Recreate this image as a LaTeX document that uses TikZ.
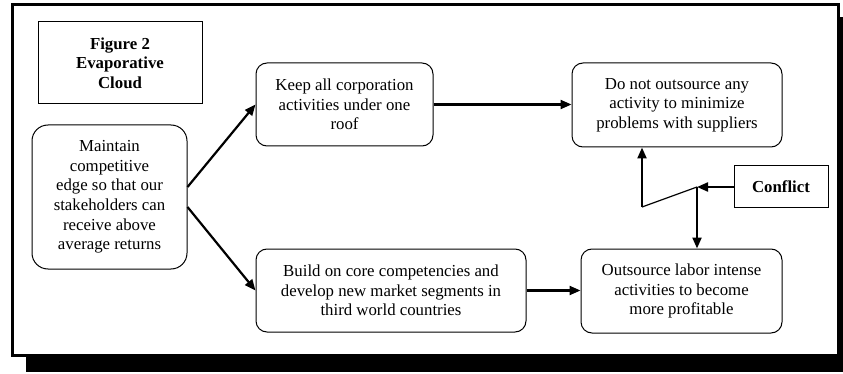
\documentclass[tikz,border=0pt]{standalone}
\usepackage{fontspec}
\setmainfont{Liberation Serif}
\usetikzlibrary{arrows.meta}
\begin{document}
\begin{tikzpicture}[x=1pt,y=-1pt,
  every node/.style={font=\fontsize{16.8}{19.6}\selectfont, align=center, inner sep=0pt},
  roundbox/.style={draw, line width=1pt, rounded corners=11pt},
  flow/.style={line width=2.2pt, -{Triangle[length=11pt,width=9pt]}},
  link/.style={line width=1.2pt}]
  \useasboundingbox (0,0) rectangle (843,374);

  % page frame with its drop shadow
  \fill (26,355) rectangle (843,372);
  \fill (838,17) rectangle (843,372);
  \draw[line width=3pt] (12,5) rectangle (838,355);

  % title box
  \node[draw, line width=1pt, minimum width=164pt, minimum height=82pt]
    (title) at (120,63) {\bfseries Figure 2\\\bfseries Evaporative\\\bfseries Cloud};

  % cloud entities
  \node[roundbox, rounded corners=16pt, minimum width=155pt, minimum height=144pt]
    (goal) at (109.5,197) {Maintain\\competitive\\edge so that our\\stakeholders can\\receive above\\average returns};
  \node[roundbox, minimum width=177pt, minimum height=83pt]
    (keep) at (344.5,104.5) {Keep all corporation\\activities under one\\roof};
  \node[roundbox, minimum width=210pt, minimum height=84pt]
    (donot) at (677,105) {Do not outsource any\\activity to minimize\\problems with suppliers};
  \node[roundbox, minimum width=270pt, minimum height=83pt]
    (build) at (391,290.5) {Build on core competencies and\\develop new market segments in\\third world countries};
  \node[roundbox, minimum width=201pt, minimum height=84pt]
    (outs) at (681.5,291) {Outsource labor intense\\activities to become\\more profitable};
  \node[draw, line width=1pt, minimum width=94pt, minimum height=42pt]
    (conflict) at (781,187) {\bfseries Conflict};

  % requirement and prerequisite arrows
  \draw[flow] ([yshift=10pt]goal.east) -- (keep.west);
  \draw[flow] ([yshift=-10pt]goal.east) -- (build.west);
  \draw[flow] (keep.east) -- (keep.east -| donot.west);
  \draw[flow] (build.east) -- (build.east -| outs.west);

  % conflict lightning connector
  \coordinate (j) at (697,187);
  \coordinate (k) at (642,207);
  \draw[flow] (conflict.west) -- (j);
  \draw[flow] (j) -- (j |- outs.north);
  \draw[link] (j) -- (k);
  \draw[flow] (k) -- (k |- donot.south);
\end{tikzpicture}
\end{document}
